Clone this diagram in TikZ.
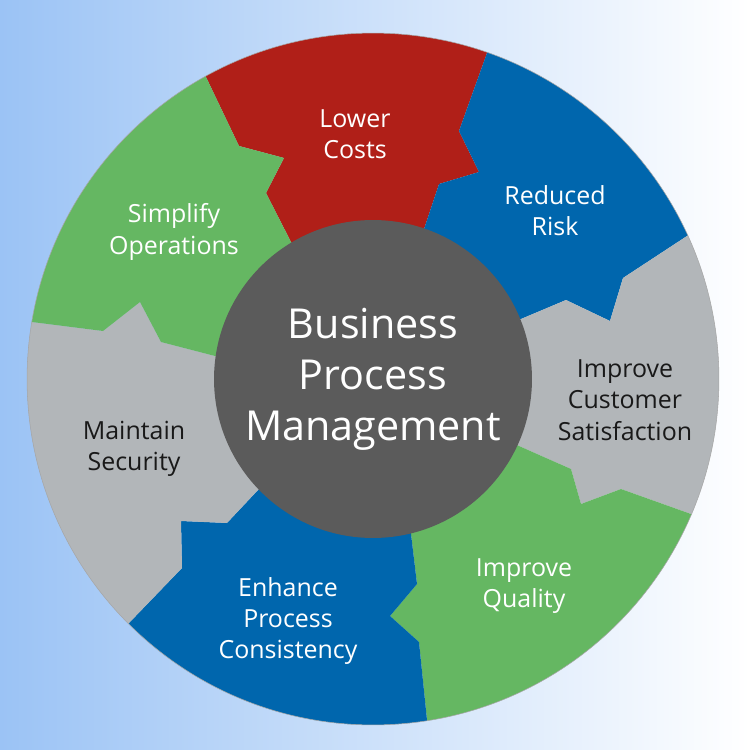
\documentclass[tikz,border=0pt]{standalone}
\usepackage{fontspec}
\setmainfont{Open Sans}
\usetikzlibrary{calc}

\definecolor{bgblue}{RGB}{155,195,245}
\definecolor{costred}{RGB}{176,31,24}
\definecolor{riskblue}{RGB}{0,102,173}
\definecolor{softgray}{RGB}{178,182,185}
\definecolor{leafgreen}{RGB}{101,183,98}
\definecolor{hubgray}{RGB}{91,91,91}

\tikzstyle{lbl} = [align=center, font=\fontsize{14.2}{17.8}\selectfont, text=white]
\tikzstyle{dark lbl} = [lbl, text=black!90]
\tikzstyle{hub} = [circle, fill=hubgray, minimum size=6.36cm, inner sep=0pt,
    align=center, text=white, font=\fontsize{23.5}{29}\selectfont]

\newcommand{\wedgepiece}[3]{%
  \fill[#3] (c) -- (#1-4) -- (#1-3) -- (#1-2) -- (#1-1) -- (#1-0)
    -- ($(c)!1.25!(#1-0)$) -- ($(c)!1.25!(#2-0)$)
    -- (#2-0) -- (#2-1) -- (#2-2) -- (#2-3) -- (#2-4) -- cycle;}

\begin{document}
\begin{tikzpicture}[x=0.02cm, y=-0.02cm]
\useasboundingbox (0,0) rectangle (750,750);
\shade[left color=bgblue, middle color=bgblue!55!white, right color=white] (0,0) rectangle (750,750);

\coordinate (c) at (373,379);
\coordinate (b1-0) at (206,77); \coordinate (b1-1) at (239,146); \coordinate (b1-2) at (284,158); \coordinate (b1-3) at (266,193); \coordinate (b1-4) at (291,242);
\coordinate (b2-0) at (487,53); \coordinate (b2-1) at (459,131); \coordinate (b2-2) at (479,172); \coordinate (b2-3) at (439,184); \coordinate (b2-4) at (424,229);
\coordinate (b3-0) at (687,236); \coordinate (b3-1) at (623,278); \coordinate (b3-2) at (610,321); \coordinate (b3-3) at (566,300); \coordinate (b3-4) at (521,319);
\coordinate (b4-0) at (691,514); \coordinate (b4-1) at (621,489); \coordinate (b4-2) at (581,504); \coordinate (b4-3) at (571,469); \coordinate (b4-4) at (519,446);
\coordinate (b5-0) at (427,720); \coordinate (b5-1) at (419,642); \coordinate (b5-2) at (390,616); \coordinate (b5-3) at (417,584); \coordinate (b5-4) at (411,534);
\coordinate (b6-0) at (129,623); \coordinate (b6-1) at (182,568); \coordinate (b6-2) at (181,521); \coordinate (b6-3) at (227,523); \coordinate (b6-4) at (258,490);
\coordinate (b7-0) at (32,322); \coordinate (b7-1) at (103,331); \coordinate (b7-2) at (140,302); \coordinate (b7-3) at (161,342); \coordinate (b7-4) at (215,356);

\begin{scope}
\clip (c) circle [radius=6.92cm];
\wedgepiece{b1}{b2}{costred}
\wedgepiece{b2}{b3}{riskblue}
\wedgepiece{b3}{b4}{softgray}
\wedgepiece{b4}{b5}{leafgreen}
\wedgepiece{b5}{b6}{riskblue}
\wedgepiece{b6}{b7}{softgray}
\wedgepiece{b7}{b1}{leafgreen}
\end{scope}
\draw[black!35, line width=0.3pt] (c) circle [radius=6.92cm];

\node[hub] (bpm) at (c) {Business\\Process\\Management};

\node[lbl] (costs) at (355,134) {Lower\\Costs};
\node[lbl] (risk) at (555,211) {Reduced\\Risk};
\node[dark lbl] (satisfaction) at (625,400) {Improve\\Customer\\Satisfaction};
\node[lbl] (quality) at (524,586) {Improve\\Quality};
\node[lbl] (consistency) at (288,621) {Enhance\\Process\\Consistency};
\node[dark lbl] (security) at (134,449) {Maintain\\Security};
\node[lbl] (operations) at (174,232) {Simplify\\Operations};
\end{tikzpicture}
\end{document}
